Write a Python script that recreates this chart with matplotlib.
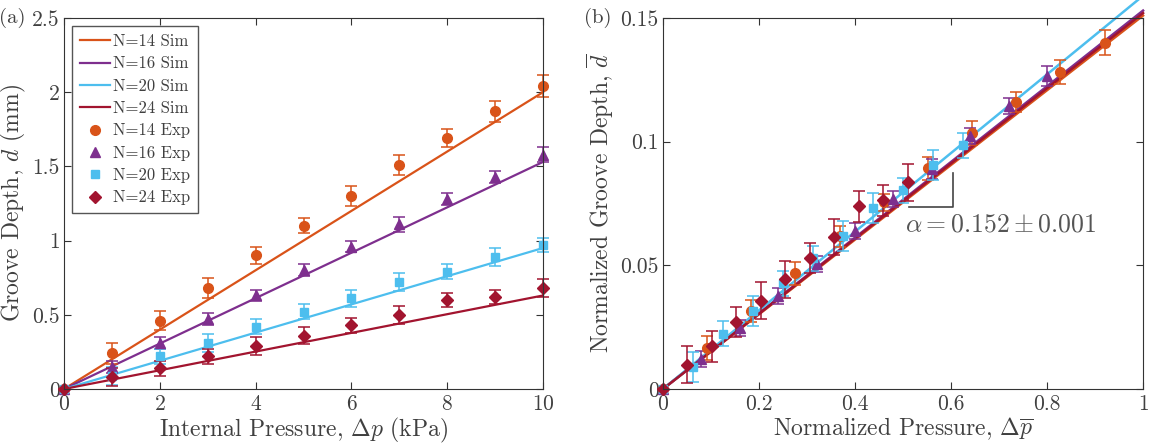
import numpy as np
import matplotlib
matplotlib.use("Agg")
import matplotlib.pyplot as plt
from matplotlib.lines import Line2D

plt.rcParams['font.family'] = 'cmr10'
plt.rcParams['mathtext.fontset'] = 'cm'
plt.rcParams['axes.formatter.use_mathtext'] = True

## data, panel (a)
pressure = [1, 2, 3, 4, 5, 6, 7, 8, 9, 10]
exp_14 = [0.24, 0.46, 0.68, 0.90, 1.10, 1.30, 1.51, 1.69, 1.87, 2.04]
exp_16 = [0.15, 0.31, 0.47, 0.63, 0.80, 0.96, 1.11, 1.28, 1.43, 1.58]
exp_20 = [0.09, 0.22, 0.31, 0.42, 0.52, 0.61, 0.72, 0.79, 0.89, 0.97]
exp_24 = [0.08, 0.14, 0.22, 0.29, 0.36, 0.43, 0.50, 0.60, 0.62, 0.68]
err_14 = [0.07, 0.065, 0.065, 0.06, 0.05, 0.07, 0.07, 0.06, 0.07, 0.075]
err_16 = [0.04, 0.04, 0.04, 0.04, 0.04, 0.04, 0.05, 0.04, 0.04, 0.05]
err_20 = [0.06, 0.05, 0.06, 0.05, 0.05, 0.06, 0.06, 0.05, 0.06, 0.05]
err_24 = [0.06, 0.05, 0.05, 0.06, 0.06, 0.05, 0.06, 0.05, 0.05, 0.06]
sim_p = [0, 10]
sim_14 = [0, 2.00]
sim_16 = [0, 1.53]
sim_20 = [0, 0.95]
sim_24 = [0, 0.63]

## data, panel (b)
pn_14 = [0.092, 0.184, 0.276, 0.368, 0.460, 0.552, 0.644, 0.736, 0.828, 0.920]
pn_16 = [0.080, 0.160, 0.240, 0.320, 0.400, 0.480, 0.560, 0.640, 0.720, 0.800]
pn_20 = [0.0625, 0.125, 0.1875, 0.250, 0.3125, 0.375, 0.4375, 0.500, 0.5625, 0.625]
pn_24 = [0.051, 0.102, 0.153, 0.204, 0.255, 0.306, 0.357, 0.408, 0.459, 0.510]
dn_14 = [0.0165, 0.0316, 0.0467, 0.0617, 0.0755, 0.0892, 0.1036, 0.1159, 0.1283, 0.1400]
dn_16 = [0.0120, 0.0248, 0.0376, 0.0504, 0.0640, 0.0768, 0.0888, 0.1024, 0.1144, 0.1264]
dn_20 = [0.0090, 0.0224, 0.0315, 0.0427, 0.0529, 0.0620, 0.0732, 0.0803, 0.0905, 0.0986]
dn_24 = [0.0098, 0.0172, 0.0271, 0.0357, 0.0443, 0.0529, 0.0615, 0.0738, 0.0763, 0.0836]
en_14 = [0.0048, 0.0045, 0.0045, 0.0041, 0.0034, 0.0048, 0.0048, 0.0041, 0.0048, 0.0051]
en_16 = [0.0032, 0.0032, 0.0032, 0.0032, 0.0032, 0.0032, 0.0040, 0.0032, 0.0032, 0.0040]
en_20 = [0.0061, 0.0051, 0.0061, 0.0051, 0.0051, 0.0061, 0.0061, 0.0051, 0.0061, 0.0051]
en_24 = [0.0074, 0.0062, 0.0062, 0.0074, 0.0074, 0.0062, 0.0074, 0.0062, 0.0062, 0.0074]
simn_p = [0, 1]
simn_14 = [0, 0.151]
simn_16 = [0, 0.153]
simn_20 = [0, 0.159]
simn_24 = [0, 0.152]

labels = ['14', '16', '20', '24']
cols = ['#D95319', '#7E2F8E', '#4DBEEE', '#A2142F']
marks = ['o', '^', 's', 'D']
msize = [7, 7, 6, 6]
txtc = '#404040'

fig = plt.figure(figsize=(11.56, 4.47), dpi=100)
ax1 = fig.add_axes([0.0554, 0.1298, 0.4143, 0.8299])
ax2 = fig.add_axes([0.5735, 0.1298, 0.4153, 0.8299])

# panel (a)
for s, c in zip([sim_14, sim_16, sim_20, sim_24], cols):
    ax1.plot(sim_p, s, color=c, lw=1.6)
for y, e, c, m, ms in zip([exp_14, exp_16, exp_20, exp_24],
                          [err_14, err_16, err_20, err_24],
                          cols, marks, msize):
    ax1.errorbar([0] + pressure, [0] + y, yerr=[0] + e, fmt=m, color=c, ms=ms,
                 capsize=4, elinewidth=1.1, capthick=1.1)

# legend: lines for Sim, bare markers for Exp
hnd = [Line2D([], [], color=c, lw=1.6) for c in cols]
hnd += [Line2D([], [], color=c, marker=m, ls='none', ms=ms) for c, m, ms in zip(cols, marks, msize)]
txt = ["N=%s Sim" % l for l in labels] + ["N=%s Exp" % l for l in labels]
leg = ax1.legend(hnd, txt, loc='upper left', fontsize=12, handlelength=1.8, handletextpad=0.2,
                 borderaxespad=0.5, labelspacing=0.42, fancybox=False, framealpha=1,
                 edgecolor='#555555', borderpad=0.45)
for t in leg.get_texts():
    t.set_color(txtc)

ax1.set_xlim(0, 10)
ax1.set_ylim(0, 2.5)
ax1.set_xticks([0, 2, 4, 6, 8, 10])
ax1.set_yticks([0, 0.5, 1, 1.5, 2, 2.5])
ax1.set_yticklabels(['0', '0.5', '1', '1.5', '2', '2.5'])
ax1.set_xlabel(r"Internal Pressure, $\Delta p$ (kPa)", fontsize=17, color=txtc, labelpad=1)
ax1.set_ylabel(r"Groove Depth, $d$ (mm)", fontsize=17, color=txtc, labelpad=3)
ax1.text(-0.135, 1.0, "(a)", transform=ax1.transAxes, fontsize=15, color=txtc, va='center')

# panel (b)
for s, c in zip([simn_14, simn_16, simn_20, simn_24], cols):
    ax2.plot(simn_p, s, color=c, lw=1.8)
for x, y, e, c, m, ms in zip([pn_14, pn_16, pn_20, pn_24],
                             [dn_14, dn_16, dn_20, dn_24],
                             [en_14, en_16, en_20, en_24],
                             cols, marks, msize):
    ax2.errorbar([0] + x, [0] + y, yerr=[0] + e, fmt=m, color=c, ms=ms,
                 capsize=4, elinewidth=1.1, capthick=1.1)
ax2.plot([0.512, 0.604, 0.604], [0.0736, 0.0736, 0.0873], color='#444444', lw=1.2)
ax2.text(0.505, 0.0663, r"$\alpha = 0.152 \pm 0.001$", fontsize=18.5, color='#555555', va='center')
ax2.set_xlim(0, 1)
ax2.set_ylim(0, 0.15)
ax2.set_xticks([0, 0.2, 0.4, 0.6, 0.8, 1])
ax2.set_xticklabels(['0', '0.2', '0.4', '0.6', '0.8', '1'])
ax2.set_yticks([0, 0.05, 0.1, 0.15])
ax2.set_yticklabels(['0', '0.05', '0.1', '0.15'])
ax2.set_xlabel(r"Normalized Pressure, $\Delta\overline{p}$", fontsize=17, color=txtc, labelpad=1)
ax2.set_ylabel(r"Normalized Groove Depth, $\overline{d}$", fontsize=17, color=txtc, labelpad=3)
ax2.text(-0.165, 1.0, "(b)", transform=ax2.transAxes, fontsize=15, color=txtc, va='center')

for ax in (ax1, ax2):
    ax.tick_params(direction='in', top=True, right=True, length=5, width=0.8,
                   labelsize=15.5, labelcolor=txtc, color='#333333')
    ax.tick_params(axis='x', pad=4)
    ax.tick_params(axis='y', pad=3)
    for sp in ax.spines.values():
        sp.set_color('#333333')
        sp.set_linewidth(0.8)
    for c in ax.get_children():
        if hasattr(c, 'set_clip_on'):
            c.set_clip_on(False)
    ax.patch.set_clip_on(True)

fig.savefig("out.png", dpi=100)
